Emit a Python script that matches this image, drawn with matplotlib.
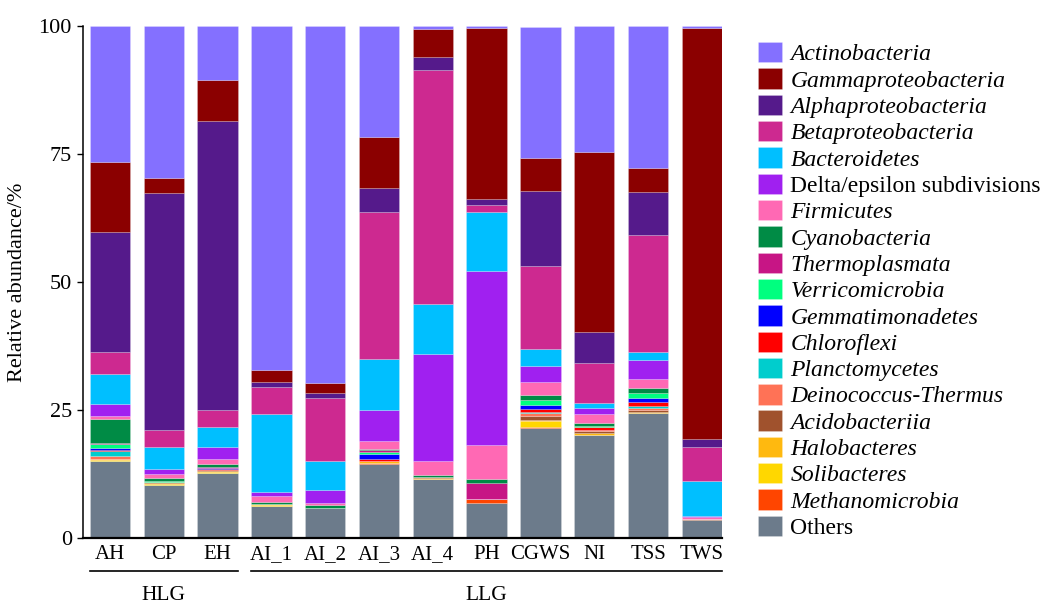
import numpy as np
import matplotlib
matplotlib.use("Agg")
import matplotlib.pyplot as plt
import matplotlib.transforms as mtransforms
from matplotlib.patches import Patch

plt.rcParams["font.family"] = ["Liberation Serif", "DejaVu Serif"]

samples = ["AH", "CP", "EH", "AI_1", "AI_2", "AI_3", "AI_4", "PH", "CGWS", "NI", "TSS", "TWS"]
groups = [("HLG", 0, 2), ("LLG", 3, 11)]

# stacked bottom -> top, relative abundance (%)
others           = [15.1, 10.35, 12.75, 6.3, 5.8, 14.4, 11.5, 6.8, 21.4, 20.1, 24.4, 3.5]
methanomicrobia  = [0.0, 0.0, 0.0, 0.0, 0.0, 0.3, 0.0, 0.8, 0.3, 0.0, 0.0, 0.0]
solibacteres     = [0.1, 0.1, 0.05, 0.05, 0.0, 0.0, 0.0, 0.0, 1.2, 0.0, 0.0, 0.0]
halobacteres     = [0.15, 0.35, 0.35, 0.25, 0.1, 0.25, 0.15, 0.0, 0.15, 0.45, 0.3, 0.0]
acidobacteriia   = [0.1, 0.1, 0.05, 0.05, 0.0, 0.0, 0.2, 0.0, 0.75, 0.3, 0.3, 0.15]
deinococcus      = [0.6, 0.1, 0.05, 0.0, 0.0, 0.0, 0.0, 0.0, 0.55, 0.25, 0.3, 0.15]
planctomycetes   = [1.0, 0.0, 0.1, 0.0, 0.0, 0.0, 0.0, 0.0, 0.35, 0.0, 0.5, 0.0]
chloroflexi      = [0.2, 0.0, 0.2, 0.0, 0.0, 0.4, 0.0, 0.0, 0.45, 0.65, 0.8, 0.0]
gemmatimonadetes = [0.4, 0.0, 0.05, 0.0, 0.0, 1.05, 0.0, 0.0, 0.85, 0.0, 0.8, 0.0]
verricomicrobia  = [0.8, 0.05, 0.1, 0.0, 0.0, 0.45, 0.0, 0.0, 1.0, 0.1, 1.0, 0.0]
thermoplasmata   = [0.1, 0.05, 0.1, 0.0, 0.0, 0.3, 0.0, 3.1, 0.0, 0.0, 0.0, 0.0]
cyanobacteria    = [4.6, 0.55, 0.65, 0.45, 0.55, 0.3, 0.45, 0.8, 1.0, 0.65, 0.9, 0.0]
firmicutes       = [0.65, 0.85, 0.95, 1.15, 0.45, 1.5, 2.8, 6.7, 2.4, 1.7, 1.8, 0.25]
delta_epsilon    = [2.3, 0.9, 2.3, 0.8, 2.5, 6.1, 20.8, 34.0, 3.2, 1.1, 3.7, 0.2]
bacteroidetes    = [5.9, 4.3, 3.9, 15.15, 5.7, 9.95, 9.8, 11.5, 3.3, 1.0, 1.6, 6.85]
betaproteo       = [4.3, 3.4, 3.4, 5.2, 12.2, 28.6, 45.7, 1.3, 16.2, 7.8, 22.7, 6.7]
alphaproteo      = [23.5, 46.2, 56.5, 1.1, 1.0, 4.8, 2.6, 1.3, 14.6, 6.2, 8.5, 1.5]
gammaproteo      = [13.7, 3.1, 7.95, 2.25, 1.9, 10.0, 5.35, 33.3, 6.55, 35.1, 4.7, 80.3]
actinobacteria   = [26.5, 29.6, 10.55, 67.25, 69.8, 21.6, 0.65, 0.4, 25.65, 24.6, 27.7, 0.4]

series = [
    ("Others", others, "#6C7B8B", False),
    ("Methanomicrobia", methanomicrobia, "#FF4500", True),
    ("Solibacteres", solibacteres, "#FFD700", True),
    ("Halobacteres", halobacteres, "#FFB90F", True),
    ("Acidobacteriia", acidobacteriia, "#A0522D", True),
    ("Deinococcus-Thermus", deinococcus, "#FF7256", True),
    ("Planctomycetes", planctomycetes, "#00CDCD", True),
    ("Chloroflexi", chloroflexi, "#FF0000", True),
    ("Gemmatimonadetes", gemmatimonadetes, "#0000FF", True),
    ("Verricomicrobia", verricomicrobia, "#00FF7F", True),
    ("Thermoplasmata", thermoplasmata, "#C71585", True),
    ("Cyanobacteria", cyanobacteria, "#008B45", True),
    ("Firmicutes", firmicutes, "#FF69B4", True),
    ("Delta/epsilon subdivisions", delta_epsilon, "#A020F0", False),
    ("Bacteroidetes", bacteroidetes, "#00BFFF", True),
    ("Betaproteobacteria", betaproteo, "#CD2990", True),
    ("Alphaproteobacteria", alphaproteo, "#551A8B", True),
    ("Gammaproteobacteria", gammaproteo, "#8B0000", True),
    ("Actinobacteria", actinobacteria, "#8470FF", True),
]

fig = plt.figure(figsize=(10.46, 6.03), dpi=100)
ax = fig.add_axes([83 / 1046, 1 - 538 / 603, (722 - 83) / 1046, (538 - 26) / 603])

x = np.arange(len(samples))
width = 0.75
bottom = np.zeros(len(samples))
for name, vals, color, italic in series:
    vals = np.array(vals)
    ax.bar(x, vals, width, bottom=bottom, color=color,
           edgecolor=(1, 1, 1, 0.35), linewidth=0.4)
    bottom += vals

ax.set_xlim(-0.5, len(samples) - 1 + width / 2)
ax.set_ylim(0, 100)
ax.set_yticks([0, 25, 50, 75, 100])
ax.set_xticks(x)
ax.set_xticklabels(samples, fontsize=15)
ax.tick_params(axis="x", length=0, pad=5)
ax.tick_params(axis="y", direction="out", length=4, width=1, labelsize=16, pad=4)
ax.set_ylabel("Relative abundance/%", fontsize=16, labelpad=8)
for s in ["top", "right"]:
    ax.spines[s].set_visible(False)
ax.spines["left"].set_linewidth(1.1)
ax.spines["bottom"].set_linewidth(1.6)

# group brackets under tick labels
trans = mtransforms.blended_transform_factory(ax.transData, ax.transAxes)
for label, i0, i1 in groups:
    x0, x1 = i0 - width / 2, i1 + width / 2
    ax.plot([x0, x1], [-0.064, -0.064], color="black", lw=1.2,
            transform=trans, clip_on=False)
    ax.text((x0 + x1) / 2, -0.112, label, transform=trans, ha="center",
            va="center", fontsize=15.5)

handles = [Patch(facecolor=c, edgecolor=(1, 1, 1, 0.35), linewidth=0.4)
           for _, _, c, _ in reversed(series)]
labels = [n for n, _, _, _ in reversed(series)]
leg = fig.legend(handles, labels, loc="upper left",
                 bbox_to_anchor=(758 / 1046, 1 - 42 / 603),
                 frameon=False, fontsize=17, labelspacing=0.128,
                 handlelength=1.02, handleheight=0.95, handletextpad=0.35,
                 borderpad=0, borderaxespad=0)
for t, (_, _, _, italic) in zip(leg.get_texts(), reversed(series)):
    if italic:
        t.set_style("italic")

fig.savefig("out.png", dpi=100)
